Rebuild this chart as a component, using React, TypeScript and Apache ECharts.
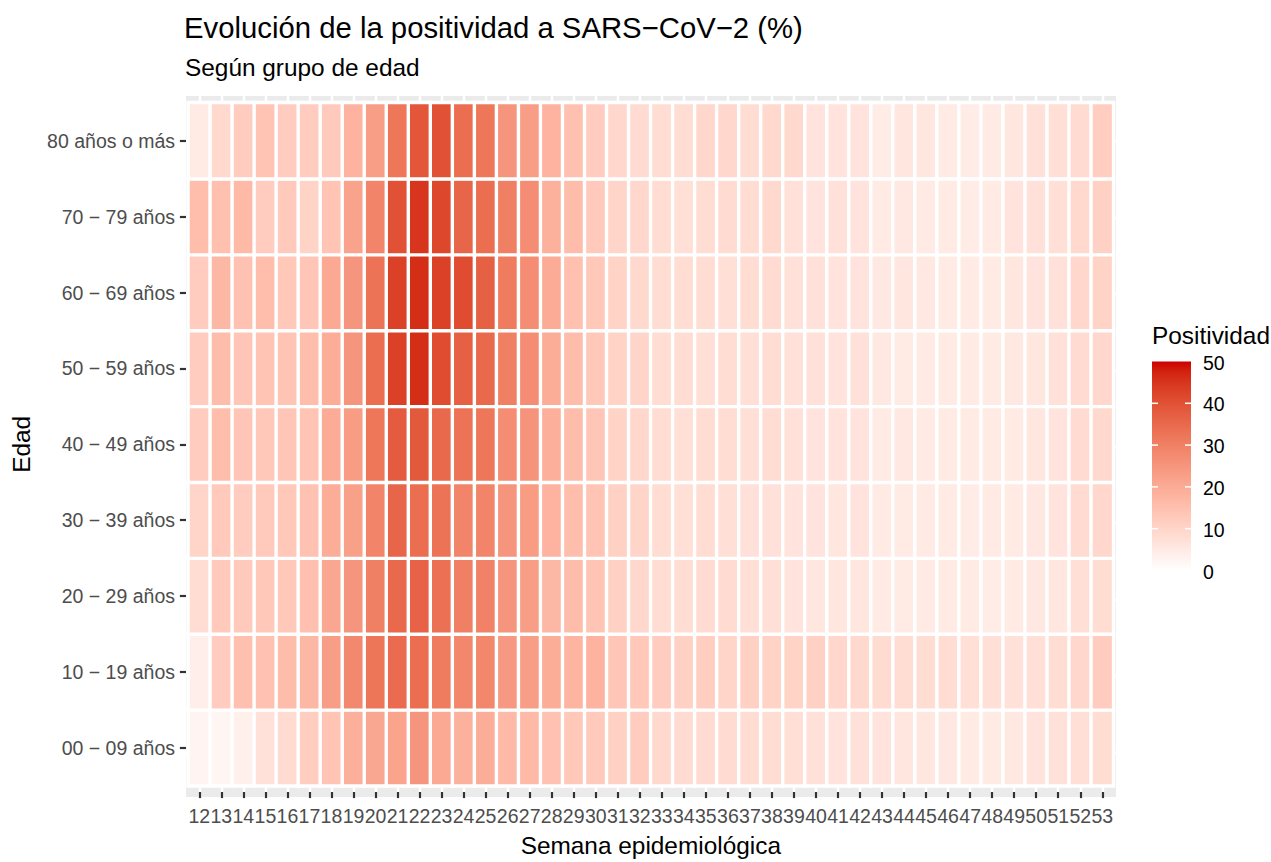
import React, { useEffect, useRef } from "react";
import * as echarts from "echarts";

// ---------------- DATA ----------------
const weeks = [
  "12", "13", "14", "15", "16", "17", "18", "19", "20", "21", "22", "23", "24", "25",
  "26", "27", "28", "29", "30", "31", "32", "33", "34", "35", "36", "37", "38", "39",
  "40", "41", "42", "43", "44", "45", "46", "47", "48", "49", "50", "51", "52", "53",
];

// bottom to top
const ageGroups = [
  "00 − 09 años",
  "10 − 19 años",
  "20 − 29 años",
  "30 − 39 años",
  "40 − 49 años",
  "50 − 59 años",
  "60 − 69 años",
  "70 − 79 años",
  "80 años o más",
];

const pos00_09 = [2.5, 2, 3.5, 7, 8.5, 11.5, 14, 19, 21, 21.5, 25, 20.5, 18.5, 19.5, 16.5, 16.5, 14.5, 13, 12.5, 11,
  12, 9, 8.5, 8.5, 8.5, 8, 8, 7.5, 7, 6.5, 7, 6.5, 6, 6, 5.5, 5, 5, 5.5, 6.5, 7, 7.5, 8];
const pos10_19 = [4, 12, 15, 14.5, 16, 17, 23, 28, 32.5, 34.5, 34, 31, 28.5, 28.5, 24, 23, 19.5, 17.5, 18, 13.5,
  13, 12, 11, 11.5, 10, 11, 10.5, 10.5, 11, 9.5, 9, 8.5, 8, 8, 8, 7.5, 7.5, 7, 7.5, 8, 9.5, 12];
const pos20_29 = [8, 12.5, 12.5, 13, 13, 15, 21, 25, 30, 35, 36.5, 33.5, 30, 29.5, 25, 23, 17, 16, 14, 11,
  9.5, 8, 8, 8.5, 8.5, 7.5, 7.5, 6.5, 6, 6, 6, 5, 5, 5, 5, 5, 4.5, 5, 5.5, 6, 7.5, 8];
const pos30_39 = [10, 12.5, 12, 12.5, 13, 14.5, 19.5, 22.5, 29, 36, 34, 33, 29, 29, 25, 23.5, 18, 15.5, 14, 11,
  10, 8, 7.5, 8, 7.5, 7, 7, 6.5, 6.5, 6, 6.5, 5, 5, 5, 5, 4.5, 5, 5, 5.5, 6.5, 8.5, 9.5];
const pos40_49 = [12, 15.5, 13.5, 13, 13.5, 14, 20, 23.5, 32, 38, 38.5, 35, 33, 32, 27, 25.5, 19, 16, 13.5, 10.5,
  9.5, 8, 7.5, 8, 8, 7.5, 8, 7, 6.5, 6.5, 6.5, 5, 5.5, 5, 5, 5, 5, 5, 6, 6.5, 8.5, 9];
const pos50_59 = [12, 16, 13.5, 14, 14, 15.5, 19.5, 25, 34, 43, 46, 41, 37, 35, 30, 27, 19.5, 16, 13, 10.5,
  10, 8, 8, 7.5, 8, 7.5, 8, 7, 7, 6.5, 7, 5.5, 5, 5, 5, 5, 5, 5.5, 6, 7, 8.5, 9.5];
const pos60_69 = [12, 17, 14.5, 15.5, 13, 13.5, 20.5, 25, 33, 43, 46, 43, 41, 37, 31, 27, 20, 15, 13, 10.5,
  9, 8, 8, 8, 7.5, 8, 8.5, 7, 7, 6.5, 6.5, 5.5, 6, 5.5, 5, 5, 5, 6, 6.5, 7, 9.5, 10.5];
const pos70_79 = [15.5, 15, 16.5, 12, 12.5, 10.5, 14, 22, 29, 40, 45, 42, 36, 34, 30, 27, 18.5, 16, 12.5, 10,
  9.5, 8, 7.5, 8, 8.5, 8, 9, 7, 6.5, 7, 6.5, 5, 5.5, 5, 5, 4.5, 5, 6.5, 7, 7.5, 9, 11];
const pos80 = [5, 9, 12, 14, 12, 12, 12.5, 18, 23, 32, 39, 40, 34, 32, 25, 23, 18, 15, 12, 9.5,
  8.5, 8, 8, 9.5, 9.5, 8, 9, 9, 6.5, 6.5, 6.5, 4.5, 6, 6, 5, 4.5, 5, 6, 7, 7.5, 8.5, 11.5];

const positivity = [pos00_09, pos10_19, pos20_29, pos30_39, pos40_49, pos50_59, pos60_69, pos70_79, pos80];

const scaleMin = 0;
const scaleMax = 50;
const legendTicks = [0, 10, 20, 30, 40, 50];

const lowColor = "#FFFFFF";
const highColor = "#CD0000";

// ---------------- COLOUR (Lab interpolation, like ggplot) ----------------
function hexToRgb(h: string) {
  const n = parseInt(h.slice(1), 16);
  return [(n >> 16) & 255, (n >> 8) & 255, n & 255];
}
function toLin(c: number) {
  c /= 255;
  return c <= 0.04045 ? c / 12.92 : Math.pow((c + 0.055) / 1.055, 2.4);
}
function fromLin(c: number) {
  c = Math.max(0, Math.min(1, c));
  const v = c <= 0.0031308 ? 12.92 * c : 1.055 * Math.pow(c, 1 / 2.4) - 0.055;
  return Math.round(Math.max(0, Math.min(1, v)) * 255);
}
const Xn = 0.95047, Yn = 1.0, Zn = 1.08883;
function f(t: number) {
  return t > 216 / 24389 ? Math.cbrt(t) : (24389 / 27 * t + 16) / 116;
}
function finv(t: number) {
  const t3 = t * t * t;
  return t3 > 216 / 24389 ? t3 : (116 * t - 16) / (24389 / 27);
}
function rgbToLab(rgb: number[]) {
  const [r, g, b] = rgb.map(toLin);
  const X = 0.4124564 * r + 0.3575761 * g + 0.1804375 * b;
  const Y = 0.2126729 * r + 0.7151522 * g + 0.072175 * b;
  const Z = 0.0193339 * r + 0.119192 * g + 0.9503041 * b;
  const fx = f(X / Xn), fy = f(Y / Yn), fz = f(Z / Zn);
  return [116 * fy - 16, 500 * (fx - fy), 200 * (fy - fz)];
}
function labToHex(lab: number[]) {
  const [L, a, bb] = lab;
  const fy = (L + 16) / 116;
  const fx = fy + a / 500;
  const fz = fy - bb / 200;
  const X = Xn * finv(fx), Y = Yn * finv(fy), Z = Zn * finv(fz);
  const r = 3.2404542 * X - 1.5371385 * Y - 0.4985314 * Z;
  const g = -0.969266 * X + 1.8760108 * Y + 0.041556 * Z;
  const b = 0.0556434 * X - 0.2040259 * Y + 1.0572252 * Z;
  return "#" + [fromLin(r), fromLin(g), fromLin(b)].map((v) => v.toString(16).padStart(2, "0")).join("");
}
const labLow = rgbToLab(hexToRgb(lowColor));
const labHigh = rgbToLab(hexToRgb(highColor));
function colourAt(t: number) {
  return labToHex(labLow.map((v, i) => v + (labHigh[i] - v) * t));
}
const STOPS = 20;
const rampColours = Array.from({ length: STOPS + 1 }, (_, i) => colourAt(i / STOPS));

// ---------------- LAYOUT ----------------
const FONT = "Liberation Sans, Arial, sans-serif";
const G = { left: 188.3, top: 102.8, width: 925, height: 688 }; // tile area
const P = { left: 186, top: 96, width: 930, height: 701 }; // grey panel
const colW = G.width / weeks.length;
const rowH = G.height / ageGroups.length;
const LEG = { x: 1152, y: 361.5, w: 39, h: 209 };

function buildOption() {
  const data: number[][] = [];
  positivity.forEach((row, yi) => row.forEach((v, xi) => data.push([xi, yi, v])));

  const legendElems: any[] = [];
  legendElems.push({
    type: "text",
    left: LEG.x,
    top: 323,
    z: 10,
    style: { text: "Positividad", font: `24.4px ${FONT}`, fill: "#000" },
  });
  legendElems.push({
    type: "rect",
    shape: { x: LEG.x, y: LEG.y, width: LEG.w, height: LEG.h },
    z: 10,
    style: {
      fill: new echarts.graphic.LinearGradient(
        0, 1, 0, 0,
        rampColours.map((c, i) => ({ offset: i / STOPS, color: c }))
      ),
    },
  });
  legendTicks.forEach((v) => {
    const y = LEG.y + LEG.h - ((v - scaleMin) / (scaleMax - scaleMin)) * LEG.h;
    if (v > scaleMin && v < scaleMax) {
      legendElems.push({
        type: "line", z: 11,
        shape: { x1: LEG.x, y1: y, x2: LEG.x + 6, y2: y },
        style: { stroke: "#fff", lineWidth: 1.5 },
      });
      legendElems.push({
        type: "line", z: 11,
        shape: { x1: LEG.x + LEG.w - 6, y1: y, x2: LEG.x + LEG.w, y2: y },
        style: { stroke: "#fff", lineWidth: 1.5 },
      });
    }
    legendElems.push({
      type: "text", z: 11,
      x: LEG.x + 51,
      y: y + 1,
      style: {
        text: String(v),
        font: `19.5px ${FONT}`,
        fill: "#000",
        textAlign: "left",
        textVerticalAlign: "middle",
      },
    });
  });

  return {
    animation: false,
    backgroundColor: "#fff",
    textStyle: { fontFamily: FONT },
    title: [
      {
        text: "Evolución de la positividad a SARS−CoV−2 (%)",
        left: 184,
        top: 13,
        padding: 0,
        textStyle: { fontSize: 29.3, fontWeight: "normal", color: "#000", fontFamily: FONT },
      },
      {
        text: "Según grupo de edad",
        left: 185,
        top: 55,
        padding: 0,
        textStyle: { fontSize: 24.4, fontWeight: "normal", color: "#000", fontFamily: FONT },
      },
    ],
    graphic: [
      {
        type: "rect",
        z: -10,
        shape: { x: P.left, y: P.top, width: P.width, height: P.height },
        style: { fill: "#EBEBEB" },
      },
      ...legendElems,
    ],
    visualMap: {
      type: "continuous",
      show: false,
      min: scaleMin,
      max: scaleMax,
      dimension: 2,
      seriesIndex: 0,
      inRange: { color: rampColours },
    },
    grid: [
      { ...G },
      // vertical white grid lines at week centres
      { left: G.left + colW / 2, top: P.top, width: G.width - colW, height: P.height },
      // horizontal white grid lines at age-group centres
      { left: P.left, top: G.top + rowH / 2, width: P.width, height: G.height - rowH },
    ],
    xAxis: [
      {
        type: "category",
        gridIndex: 0,
        data: weeks,
        position: "bottom",
        offset: P.top + P.height - (G.top + G.height),
        name: "Semana epidemiológica",
        nameLocation: "middle",
        nameGap: 41,
        nameTextStyle: { fontSize: 24.4, color: "#000", fontFamily: FONT },
        axisLine: { show: false },
        axisTick: { show: true, alignWithLabel: true, length: 6.1, lineStyle: { color: "#333333", width: 2.2 } },
        axisLabel: { interval: 0, margin: 14, fontSize: 19.5, color: "#4D4D4D", fontFamily: FONT },
        splitLine: { show: false },
      },
      {
        type: "category",
        gridIndex: 1,
        data: weeks,
        boundaryGap: false,
        axisLine: { show: false },
        axisTick: { show: false },
        axisLabel: { show: false },
        splitLine: { show: true, interval: 0, lineStyle: { color: "#FFFFFF", width: 2.4 } },
      },
      { type: "value", gridIndex: 2, show: false },
    ],
    yAxis: [
      {
        type: "category",
        gridIndex: 0,
        data: ageGroups,
        offset: G.left - P.left,
        name: "Edad",
        nameLocation: "middle",
        nameRotate: 90,
        nameGap: 153,
        nameTextStyle: { fontSize: 24.4, color: "#000", fontFamily: FONT },
        axisLine: { show: false },
        axisTick: { show: true, alignWithLabel: true, length: 6.1, lineStyle: { color: "#333333", width: 2.2 } },
        axisLabel: { interval: 0, margin: 11, fontSize: 19.5, color: "#4D4D4D", fontFamily: FONT },
        splitLine: { show: false },
      },
      { type: "value", gridIndex: 1, show: false },
      {
        type: "category",
        gridIndex: 2,
        data: ageGroups,
        boundaryGap: false,
        axisLine: { show: false },
        axisTick: { show: false },
        axisLabel: { show: false },
        splitLine: { show: true, interval: 0, lineStyle: { color: "#FFFFFF", width: 2.4 } },
      },
    ],
    series: [
      {
        type: "heatmap",
        xAxisIndex: 0,
        yAxisIndex: 0,
        data,
        z: 5,
        itemStyle: { borderColor: "#FFFFFF", borderWidth: 3.4 },
        emphasis: { disabled: true },
      },
    ],
  };
}

export default function App() {
  const ref = useRef<HTMLDivElement>(null);
  useEffect(() => {
    document.body.style.margin = "0";
    const chart = echarts.init(ref.current!, null, { renderer: "svg" });
    chart.setOption(buildOption() as any);
    return () => chart.dispose();
  }, []);
  return <div ref={ref} style={{ width: 1271, height: 862 }} />;
}
